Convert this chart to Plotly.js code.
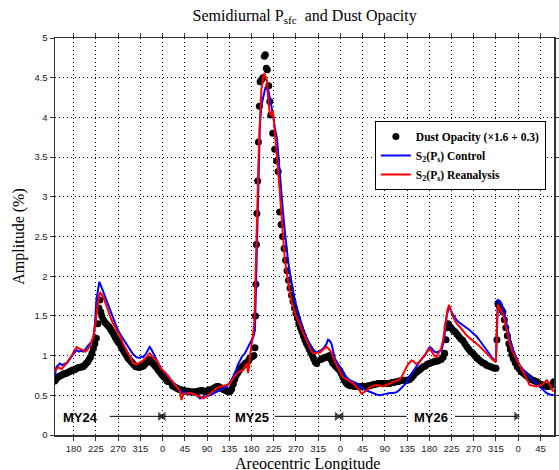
<!DOCTYPE html>
<html>
<head>
<meta charset="utf-8">
<script src="https://cdn.plot.ly/plotly-3.0.1.min.js"></script>
<style>
html,body{margin:0;padding:0;background:#fff;}
#chart{width:559px;height:470px;}
</style>
</head>
<body>
<div id="chart"></div>
<script>
// Cumulative areocentric longitude: MY24 Ls -> Ls, MY25 -> Ls+360, MY26 -> Ls+720, MY27 -> Ls+1080
const tickVals = [180,225,270,315,360,405,450,495,540,585,630,675,720,765,810,855,900,945,990,1035,1080,1125];
const tickText = ["180","225","270","315","0","45","90","135","180","225","270","315","0","45","90","135","180","225","270","315","0","45"];
const yTickVals = [0,0.5,1,1.5,2,2.5,3,3.5,4,4.5,5];
const yTickText = ["0","0.5","1","1.5","2","2.5","3","3.5","4","4.5","5"];

// Mars-year labels and the arrows that mark each year's extent
const yearNames = ["MY24","MY25","MY26"];
const yearLabelLs = [193,541,903];
const arrowTailLs = [253,496,587,854,952];
const arrowHeadLs = [355,362,713,722,1076];

const lsDust = [142,145,148,151,154,157,160,163,166,169,172,175,178,181,184,187,190,193,196,199,202,205,208,211,214,217,220,223,226,229,231,233,235,237,240,243,246,249,252,255,258,261,264,267,270,273,276,279,282,285,288,291,294,297,300,303,306,309,312,315,318,321,324,327,330,333,336,339,342,345,348,351,354,357,360,363,366,369,372,
380,383,386,389,392,395,398,401,404,407,410,413,416,419,422,425,428,431,434,437,440,443,446,449,452,455,458,461,464,467,470,473,476,479,482,485,488,491,494,497,500,503,506,509,512,515,518,521,524,527,530,533,536,539,542,545,547,548,549,550,551,552.5,554,556,557.5,560,563,566,568,570,572,575,577,579,583,587,591,594,597,
600,603,606,609,612,615,618,621,624,627,630,633,636,639,642,645,648,651,654,657,660,663,666,669,672,
680,683,686,689,692,695,698,701,704,707,710,713,716,719,722,725,728,731,734,737,740,744,748,752,756,760,764,768,772,776,780,784,788,792,796,800,804,808,812,816,820,824,828,832,836,840,844,848,852,856,860,864,868,872,876,880,884,888,892,896,900,904,908,912,916,920,924,928,931,934,936,938,941,944,948,952,956,960,964,968,972,976,980,984,988,992,996,1000,1004,1008,1012,1016,1020,1024,1028,1032,1035,1037,1039,1042,1046,1049,1052,1055,1058,1061,1064,1067,1070,1074,1078,1082,1086,1090,1094,1098,1102,1106,1110,1114,1118,1122,1126,1130,1134,1138,1142,1146,1150,1152];
const ampDust = [0.68,0.71,0.73,0.74,0.75,0.76,0.77,0.77,0.78,0.79,0.80,0.81,0.82,0.82,0.83,0.84,0.85,0.85,0.86,0.86,0.88,0.90,0.92,0.95,0.98,1.03,1.09,1.15,1.22,1.40,1.60,1.70,1.55,1.50,1.45,1.42,1.40,1.38,1.36,1.33,1.30,1.27,1.23,1.20,1.17,1.15,1.11,1.08,1.05,1.02,0.99,0.96,0.94,0.92,0.90,0.88,0.86,0.86,0.85,0.86,0.86,0.87,0.89,0.91,0.94,0.95,0.93,0.91,0.89,0.87,0.85,0.82,0.80,0.77,0.75,0.73,0.71,0.68,0.67,
0.62,0.61,0.60,0.59,0.58,0.57,0.57,0.56,0.56,0.55,0.55,0.55,0.54,0.54,0.54,0.54,0.54,0.55,0.55,0.56,0.56,0.55,0.55,0.55,0.56,0.57,0.57,0.58,0.59,0.60,0.61,0.61,0.60,0.59,0.58,0.57,0.56,0.55,0.54,0.55,0.58,0.64,0.70,0.75,0.78,0.81,0.84,0.86,0.88,0.90,0.91,0.93,0.96,0.98,0.99,1.00,1.10,1.50,1.90,2.40,2.79,3.20,3.69,4.14,4.45,4.47,4.50,4.77,4.79,4.62,4.60,4.40,4.20,4.03,3.80,3.60,3.45,3.32,2.81,
2.65,2.50,2.35,2.20,2.07,1.95,1.85,1.76,1.68,1.60,1.53,1.47,1.40,1.35,1.30,1.25,1.20,1.16,1.12,1.08,1.04,1.00,0.96,0.92,0.90,
0.95,0.96,0.97,0.98,0.98,0.99,1.00,0.95,0.91,0.89,0.87,0.85,0.83,0.81,0.77,0.73,0.69,0.66,0.64,0.63,0.62,0.62,0.61,0.61,0.61,0.61,0.61,0.61,0.61,0.62,0.62,0.63,0.64,0.64,0.65,0.65,0.65,0.65,0.65,0.65,0.65,0.66,0.66,0.67,0.67,0.68,0.69,0.69,0.69,0.69,0.70,0.72,0.75,0.78,0.80,0.82,0.84,0.86,0.87,0.89,0.90,0.91,0.92,0.93,0.93,0.94,0.95,0.98,1.03,1.20,1.35,1.40,1.37,1.35,1.32,1.30,1.27,1.24,1.21,1.19,1.15,1.11,1.08,1.05,1.03,1.00,0.97,0.95,0.93,0.91,0.90,0.88,0.87,0.86,0.85,0.84,0.84,1.20,1.66,1.62,1.58,1.55,1.45,1.35,1.25,1.15,1.08,1.01,0.96,0.91,0.86,0.83,0.80,0.78,0.76,0.74,0.72,0.70,0.69,0.68,0.67,0.65,0.64,0.63,0.62,0.61,0.61,0.62,0.65,0.67];

const lsControl = [142,145,149,152,157,162,166,171,176,181,186,191,195,199,204,208,213,217,220,223,226,229,232,234,237,240,245,250,254,260,267,273,280,287,293,300,307,313,318,321,326,331,334,338,341,346,350,355,360,365,370,375,381,388,395,402,410,416,422,429,436,442,449,456,463,469,476,483,490,496,503,508,512,517,521,526,530,535,540,544,547,549,551,553,555,557,560,564,568,571,574,577,581,584,587,590,592,594,596,598,601,604,608,611,614,617,620,623,626,629,632,635,638,642,646,650,654,658,662,666,671,676,682,688,692,695,698,702,705,709,714,719,725,732,739,746,753,760,766,773,780,786,793,800,806,813,820,827,834,840,847,854,860,867,874,880,885,891,896,901,905,910,915,920,925,930,935,938,941,945,950,955,960,965,970,975,980,985,990,996,1002,1008,1016,1022,1029,1033,1035,1037,1039,1042,1046,1050,1053,1056,1060,1065,1070,1076,1083,1090,1097,1103,1110,1117,1124,1130,1137,1144,1150,1152];
const ampControl = [0.75,0.86,0.88,0.90,0.88,0.90,0.90,0.95,0.99,1.03,1.07,1.05,1.06,1.05,1.08,1.12,1.15,1.18,1.24,1.40,1.70,1.82,1.93,1.90,1.85,1.82,1.72,1.63,1.57,1.47,1.36,1.28,1.21,1.15,1.08,1.02,0.98,0.97,0.99,0.98,1.02,1.08,1.11,1.07,1.03,0.96,0.91,0.86,0.81,0.77,0.74,0.71,0.66,0.61,0.56,0.54,0.53,0.52,0.52,0.50,0.46,0.48,0.49,0.50,0.52,0.54,0.56,0.59,0.61,0.66,0.73,0.80,0.88,0.94,0.99,1.02,1.07,1.12,1.19,1.24,1.32,1.80,2.40,3.00,3.50,3.90,4.15,4.28,4.37,4.36,4.35,4.25,4.14,4.02,3.88,3.78,3.72,3.55,3.38,3.22,3.04,2.80,2.54,2.35,2.20,2.07,1.95,1.85,1.75,1.67,1.60,1.52,1.45,1.38,1.30,1.24,1.19,1.15,1.11,1.07,1.04,1.05,1.07,1.11,1.15,1.20,1.19,1.15,1.05,0.96,0.91,0.86,0.80,0.73,0.69,0.67,0.65,0.61,0.58,0.56,0.54,0.52,0.51,0.50,0.51,0.52,0.53,0.53,0.54,0.57,0.61,0.66,0.73,0.80,0.86,0.92,0.96,1.00,1.06,1.11,1.09,1.05,1.04,1.06,1.07,1.20,1.49,1.57,1.61,1.55,1.50,1.45,1.42,1.40,1.38,1.36,1.33,1.30,1.27,1.24,1.19,1.14,1.07,1.01,0.96,0.94,0.94,1.40,1.70,1.69,1.66,1.58,1.50,1.40,1.28,1.17,1.07,0.98,0.88,0.82,0.77,0.73,0.69,0.65,0.61,0.57,0.53,0.51,0.50,0.50];

const lsReanalysis = [142,145,149,152,156,159,163,167,172,176,180,184,186,190,195,199,204,209,214,218,221,224,227,230,233,236,240,245,250,254,260,267,274,280,287,294,301,307,314,321,326,330,334,338,342,348,353,358,363,368,374,381,388,393,396,398,400,402,408,415,422,428,435,442,448,455,462,469,476,483,490,496,503,510,516,523,528,531,533,535,537,540,543,546,548,550,552,554,556,558,560,563,566,568,571,574,577,580,583,585,587,590,592,595,597,599,601,604,607,610,613,616,619,622,626,630,634,638,642,646,651,656,660,665,670,675,679,684,688,692,697,702,706,710,714,719,725,732,739,746,752,758,763,768,773,780,786,793,800,806,813,820,827,834,840,844,848,852,856,860,864,868,872,877,882,887,892,897,901,905,910,914,919,924,928,931,934,937,940,943,946,948,952,956,962,968,975,982,989,996,1003,1010,1016,1022,1028,1033,1035,1037,1039,1043,1047,1050,1054,1058,1063,1068,1073,1078,1083,1088,1093,1098,1103,1108,1113,1117,1121,1126,1131,1135,1138,1141,1144,1147,1150,1152];
const ampReanalysis = [0.80,0.82,0.86,0.84,0.83,0.86,0.88,0.92,0.96,1.00,1.05,1.09,1.11,1.09,1.08,1.07,1.05,1.08,1.14,1.20,1.26,1.40,1.57,1.70,1.80,1.77,1.74,1.65,1.55,1.49,1.40,1.32,1.24,1.15,1.06,0.98,0.90,0.89,0.91,0.94,0.97,1.00,1.03,1.00,0.97,0.94,0.88,0.83,0.80,0.77,0.72,0.66,0.61,0.58,0.52,0.44,0.47,0.52,0.52,0.53,0.52,0.50,0.49,0.46,0.48,0.51,0.55,0.59,0.61,0.62,0.63,0.65,0.71,0.77,0.80,0.82,0.88,0.90,0.78,0.85,1.00,1.10,1.25,1.45,2.00,2.60,3.00,3.40,3.80,4.10,4.35,4.48,4.56,4.52,4.47,4.22,4.05,4.02,4.09,3.98,3.84,3.68,3.51,3.30,3.09,2.92,2.75,2.45,2.25,2.10,1.97,1.85,1.75,1.66,1.57,1.50,1.45,1.40,1.33,1.27,1.19,1.12,1.07,1.03,1.03,1.04,1.04,1.07,1.09,1.11,1.08,1.04,0.97,0.91,0.86,0.80,0.73,0.70,0.68,0.65,0.61,0.57,0.52,0.54,0.56,0.60,0.62,0.63,0.62,0.61,0.63,0.65,0.67,0.69,0.70,0.73,0.78,0.84,0.88,0.91,0.94,0.93,0.90,0.90,0.94,0.98,1.03,1.07,1.09,1.05,1.00,0.98,1.03,1.09,1.20,1.35,1.49,1.58,1.64,1.58,1.52,1.49,1.44,1.40,1.36,1.31,1.26,1.22,1.19,1.15,1.11,1.07,1.03,0.99,0.95,0.93,0.92,1.30,1.64,1.59,1.54,1.50,1.40,1.28,1.15,1.06,1.00,0.95,0.90,0.84,0.77,0.70,0.63,0.62,0.61,0.61,0.62,0.63,0.65,0.67,0.69,0.66,0.62,0.59,0.56,0.55];

const serif = "Liberation Serif, Times New Roman, serif";
const sans = "Liberation Sans, Arial, Helvetica, sans-serif";
const arrowLevel = 0.235;
const labelLevel = 0.22;

const traces = [
  {x: lsDust, y: ampDust, type: 'scatter', mode: 'markers', name: 'Dust Opacity (×1.6 + 0.3)',
   marker: {color: '#000', size: 7}},
  {x: lsControl, y: ampControl, type: 'scatter', mode: 'lines', name: 'S<sub>2</sub>(P<sub>s</sub>) Control',
   line: {color: '#0000ff', width: 2}},
  {x: lsReanalysis, y: ampReanalysis, type: 'scatter', mode: 'lines', name: 'S<sub>2</sub>(P<sub>s</sub>) Reanalysis',
   line: {color: '#ff0000', width: 2}}
];

// year-extent arrows: shaft line plus a triangular head at the head end
arrowTailLs.forEach((t, i) => {
  const h = arrowHeadLs[i];
  traces.push({
    x: [t, h], y: [arrowLevel, arrowLevel], type: 'scatter', mode: 'lines+markers',
    showlegend: false, hoverinfo: 'skip',
    line: {color: '#000', width: 1},
    marker: {color: '#000', size: [0, 8], symbol: h > t ? 'triangle-right' : 'triangle-left', line: {width: 0}}
  });
});

const annotations = yearNames.map((n, i) => ({
  x: yearLabelLs[i], y: labelLevel, xref: 'x', yref: 'y', text: '<b>' + n + '</b>', showarrow: false,
  font: {family: sans, size: 13, color: '#000'}
}));
// x-axis title, placed low like the reference (partly clipped by the figure edge)
annotations.push({
  x: 0.507, y: -0.072, xref: 'paper', yref: 'paper', xanchor: 'center', yanchor: 'middle',
  text: 'Areocentric Longitude', showarrow: false,
  font: {family: serif, size: 16, color: '#000'}
});

const layout = {
  width: 559, height: 470,
  margin: {l: 55, r: 5, t: 38, b: 35},
  paper_bgcolor: '#fff', plot_bgcolor: '#fff',
  showlegend: true,
  title: {text: 'Semidiurnal P<sub>sfc</sub>  and Dust Opacity', font: {family: serif, size: 16, color: '#000'},
          x: 0.545, xanchor: 'center', y: 0.968, yanchor: 'middle', yref: 'container'},
  xaxis: {
    range: [142.2, 1152.5], tickvals: tickVals, ticktext: tickText,
    showgrid: true, gridcolor: '#000', griddash: '1px,3px', gridwidth: 1,
    zeroline: false, showline: true, linecolor: '#333', linewidth: 1.5, mirror: 'ticks',
    ticks: 'outside', ticklen: 4, tickcolor: '#333',
    tickfont: {family: sans, size: 9.5, color: '#222'}
  },
  yaxis: {
    range: [0, 5], tickvals: yTickVals, ticktext: yTickText,
    showgrid: true, gridcolor: '#000', griddash: '1px,3px', gridwidth: 1,
    zeroline: false, showline: true, linecolor: '#333', linewidth: 1.5, mirror: 'ticks',
    ticks: 'outside', ticklen: 4, tickcolor: '#333',
    tickfont: {family: sans, size: 9.5, color: '#222'},
    title: {text: 'Amplitude (%)', font: {family: serif, size: 16, color: '#000'}, standoff: 6}
  },
  legend: {
    x: 0.641, y: 0.791, xanchor: 'left', yanchor: 'top',
    bgcolor: '#fff', bordercolor: '#000', borderwidth: 1,
    font: {family: serif, size: 11.5, color: '#000', weight: 'bold'},
    itemwidth: 30, tracegroupgap: 0
  },
  annotations: annotations
};

Plotly.newPlot('chart', traces, layout, {displayModeBar: false, staticPlot: true});
</script>
</body>
</html>
